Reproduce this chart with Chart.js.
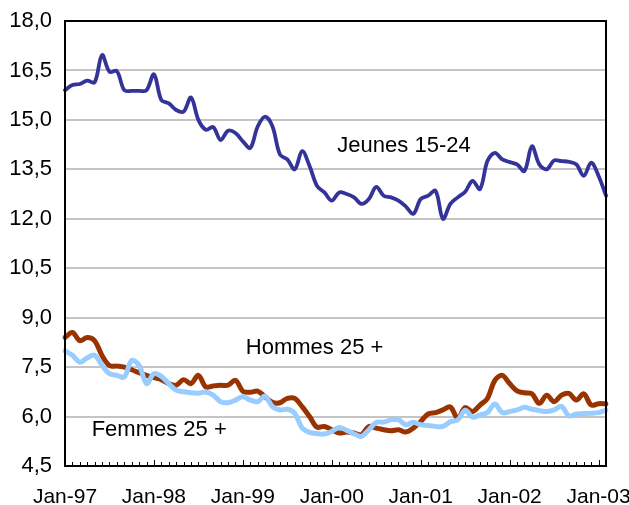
<!DOCTYPE html>
<html>
<head>
<meta charset="utf-8">
<script src="https://cdn.jsdelivr.net/npm/chart.js@4.4.1/dist/chart.umd.min.js"></script>
<style>
  html, body { margin: 0; padding: 0; background: #fff; }
  #wrap { width: 629px; height: 505px; }
</style>
</head>
<body>
<div id="wrap"><canvas id="chart"></canvas></div>
<script>
// monthly series, Jan-97 .. Feb-03
const years      = ['97','98','99','00','01','02','03'];
const monthNames = ['Jan','Feb','Mar','Apr','May','Jun','Jul','Aug','Sep','Oct','Nov','Dec'];
const lastMonths = 2; // only Jan and Feb in the last year

const jeunes = [15.9,16.06,16.09,16.19,16.14,16.97,16.46,16.48,15.9,15.88,
  15.88,15.9,16.38,15.6,15.5,15.3,15.25,15.68,15.0,14.7,
  14.78,14.39,14.67,14.6,14.35,14.15,14.8,15.1,14.8,13.95,
  13.8,13.5,14.05,13.6,13.0,12.8,12.55,12.8,12.75,12.65,
  12.45,12.6,12.97,12.7,12.65,12.55,12.37,12.15,12.6,12.7,
  12.85,12.0,12.45,12.65,12.82,13.15,12.9,13.75,14.0,13.8,
  13.72,13.65,13.45,14.2,13.65,13.5,13.77,13.75,13.73,13.65,
  13.3,13.7,13.3,12.7];
const hommes = [8.4,8.55,8.3,8.4,8.3,7.85,7.55,7.53,7.5,7.42,
  7.33,7.25,7.18,7.12,7.0,6.95,7.12,7.0,7.25,6.9,
  6.93,6.95,6.95,7.1,6.77,6.74,6.77,6.6,6.43,6.42,
  6.55,6.55,6.3,6.0,5.68,5.7,5.6,5.5,5.53,5.5,
  5.45,5.7,5.65,5.6,5.57,5.6,5.53,5.65,5.85,6.08,
  6.12,6.2,6.29,5.95,6.27,6.15,6.35,6.55,7.1,7.25,
  7.0,6.78,6.72,6.69,6.4,6.65,6.45,6.65,6.7,6.5,
  6.69,6.35,6.39,6.39];
const femmes = [7.99,7.86,7.65,7.78,7.86,7.55,7.3,7.25,7.2,7.7,
  7.55,7.0,7.3,7.22,7.0,6.8,6.75,6.72,6.71,6.74,
  6.65,6.45,6.42,6.5,6.6,6.5,6.45,6.62,6.3,6.2,
  6.22,6.1,5.65,5.52,5.48,5.47,5.55,5.67,5.58,5.48,
  5.4,5.6,5.82,5.83,5.9,5.9,5.75,5.83,5.75,5.73,
  5.7,5.7,5.84,5.9,6.19,5.98,6.05,6.12,6.38,6.12,
  6.15,6.2,6.28,6.22,6.18,6.15,6.2,6.31,6.02,6.08,
  6.09,6.1,6.12,6.19];

const yMin = 4.5, yMax = 18, yStep = 1.5;

const labels = [];
years.forEach((y, yi) => {
  const n = yi === years.length - 1 ? lastMonths : 12;
  for (let m = 0; m < n; m++) labels.push(monthNames[m] + '-' + y);
});

const FONT = 'Liberation Sans, Arial, sans-serif';

// series names written inside the plot, anchored on the scales (index, value)
const seriesTags = [
  { text: 'Jeunes 15-24', i: 36.75, v: 14.03 },
  { text: 'Hommes 25 +',  i: 24.4,  v: 7.89 },
  { text: 'Femmes 25 +',  i: 3.6,   v: 5.40 }
];

const framePlugin = {
  id: 'frame',
  afterDatasetsDraw(chart) {
    const { ctx, chartArea: a, scales: { x, y } } = chart;
    ctx.save();
    // monthly tick marks pointing inward
    ctx.strokeStyle = '#000';
    ctx.lineWidth = 1;
    labels.forEach((l, i) => {
      const px = Math.round(x.getPixelForValue(i)) + 0.5;
      const len = l.startsWith('Jan') ? 6 : 4;
      ctx.beginPath();
      ctx.moveTo(px, a.bottom);
      ctx.lineTo(px, a.bottom - len);
      ctx.stroke();
    });
    ctx.lineWidth = 2;
    ctx.strokeRect(a.left, a.top, a.right - a.left, a.bottom - a.top);
    // series names
    ctx.fillStyle = '#000';
    ctx.font = '22px ' + FONT;
    ctx.textBaseline = 'alphabetic';
    seriesTags.forEach(t => {
      ctx.fillText(t.text, x.getPixelForValue(t.i), y.getPixelForValue(t.v));
    });
    ctx.restore();
  }
};

new Chart(document.getElementById('chart'), {
  type: 'line',
  data: {
    labels: labels,
    datasets: [
      { label: 'Femmes 25 +', data: femmes, borderColor: '#99ccff', borderWidth: 5 },
      { label: 'Hommes 25 +', data: hommes, borderColor: '#993300', borderWidth: 5 },
      { label: 'Jeunes 15-24', data: jeunes, borderColor: '#333399', borderWidth: 3.8 }
    ]
  },
  options: {
    responsive: true,
    maintainAspectRatio: false,
    animation: false,
    devicePixelRatio: 1,
    layout: { padding: { top: 21, right: 23, left: 0, bottom: 0 } },
    elements: {
      point: { radius: 0 },
      line: { tension: 0.35, borderCapStyle: 'round', borderJoinStyle: 'round', fill: false }
    },
    plugins: { legend: { display: false }, tooltip: { enabled: false } },
    scales: {
      x: {
        offset: false,
        grid: { display: false },
        border: { display: false },
        ticks: {
          autoSkip: false,
          maxRotation: 0,
          padding: 11,
          color: '#000',
          font: { family: FONT, size: 21 },
          callback: (v, i) => labels[i].startsWith('Jan') ? labels[i] : ''
        },
        afterFit: s => { s.height = 39; s.paddingLeft = 0; s.paddingRight = 0; }
      },
      y: {
        min: yMin,
        max: yMax,
        grid: { color: '#c4c4c4', lineWidth: 2, drawTicks: false },
        border: { display: false },
        ticks: {
          stepSize: yStep,
          padding: 13,
          color: '#000',
          font: { family: FONT, size: 22 },
          callback: v => v.toFixed(1).replace('.', ',')
        },
        afterFit: s => { s.width = 65; s.paddingTop = 0; s.paddingBottom = 0; }
      }
    }
  },
  plugins: [framePlugin]
});
</script>
</body>
</html>
